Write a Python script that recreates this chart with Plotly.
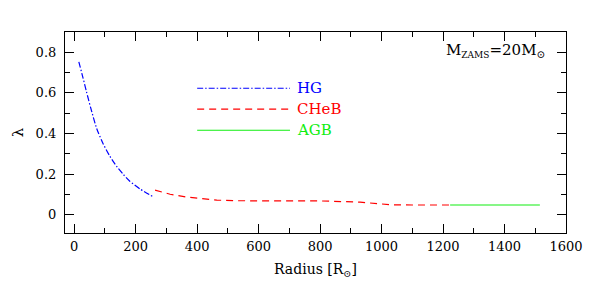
import plotly.graph_objects as go

# ---- data ----
hg_r = [15, 29, 40, 53, 73, 94, 116, 138, 160, 181, 214, 257]
hg_lam = [0.753, 0.672, 0.605, 0.53, 0.425, 0.35, 0.288, 0.238, 0.198, 0.165, 0.127, 0.088]

cheb_r = [263, 312, 366, 420, 464, 520, 572, 700, 800, 880, 930, 985, 1030, 1100, 1223]
cheb_lam = [0.121, 0.101, 0.087, 0.077, 0.072, 0.069, 0.068, 0.068, 0.068, 0.066, 0.062, 0.055, 0.049, 0.048, 0.048]

agb_r = [1223, 1515]
agb_lam = [0.048, 0.048]

legend_labels = ["HG", "CHeB", "AGB"]

BLUE = "#0000ff"
RED = "#ff0000"
GREEN = "#11ee11"
FONT = "DejaVu Serif"

fig = go.Figure()
fig.add_trace(go.Scatter(x=hg_r, y=hg_lam, mode="lines", line=dict(color=BLUE, width=1.2, dash="6px,2px,1.5px,2px", shape="spline", smoothing=0.6), showlegend=False))
fig.add_trace(go.Scatter(x=cheb_r, y=cheb_lam, mode="lines", line=dict(color=RED, width=1.2, dash="7px,5px"), showlegend=False))
fig.add_trace(go.Scatter(x=agb_r, y=agb_lam, mode="lines", line=dict(color=GREEN, width=1.2), showlegend=False))

# manual legend
leg_styles = [dict(color=BLUE, dash="6px,2px,1.5px,2px"), dict(color=RED, dash="7px,5px"), dict(color=GREEN, dash="solid")]
leg_y = [0.623, 0.52, 0.416]
for lab, st, yy in zip(legend_labels, leg_styles, leg_y):
    fig.add_shape(type="line", xref="x", yref="y", x0=400, x1=702, y0=yy, y1=yy,
                  line=dict(color=st["color"], width=1.2, dash=st["dash"]))
    fig.add_annotation(x=718, y=yy, xref="x", yref="y", text=lab, showarrow=False,
                       xanchor="left", yanchor="middle", font=dict(family=FONT, size=15, color=st["color"]))

fig.add_annotation(x=0.962, y=0.91, xref="paper", yref="paper",
                   text="M<sub><span style='font-size:9px'>ZAMS</span></sub>=20M<sub>⊙</sub>",
                   showarrow=False, xanchor="right", yanchor="middle",
                   font=dict(family=FONT, size=15, color="black"))

axis_common = dict(showgrid=False, zeroline=False, showline=True, linecolor="black", linewidth=1.2,
                   ticks="inside", ticklen=9, tickcolor="black", tickwidth=1, automargin=False,
                   tickfont=dict(family=FONT, size=13, color="black"))

# the page body has an 8px default margin, so the figure is sized to fit the window
fig.update_layout(
    width=590, height=282,
    margin=dict(l=57, r=32, t=24, b=57),
    paper_bgcolor="white", plot_bgcolor="white",
    xaxis=dict(range=[-30, 1600], dtick=200, tick0=0,
               minor=dict(dtick=100, ticklen=5, ticks="inside", tickcolor="black"),
               title=dict(text="Radius [R<sub>⊙</sub>]", font=dict(family=FONT, size=14, color="black"), standoff=11),
               ticklabelstandoff=1, **axis_common),
    yaxis=dict(range=[-0.09, 0.9], dtick=0.2, tick0=0,
               minor=dict(dtick=0.1, ticklen=5, ticks="inside", tickcolor="black"),
               title=dict(text="λ", font=dict(family=FONT, size=15, color="black"), standoff=8),
               ticklabelstandoff=5, **axis_common),
    xaxis2=dict(range=[-30, 1600], dtick=200, tick0=0, overlaying="x", side="top", showticklabels=False,
                minor=dict(dtick=100, ticklen=5, ticks="inside", tickcolor="black"), **axis_common),
    yaxis2=dict(range=[-0.09, 0.9], dtick=0.2, tick0=0, overlaying="y", side="right", showticklabels=False,
                minor=dict(dtick=0.1, ticklen=5, ticks="inside", tickcolor="black"), **axis_common),
)
# dummy trace to activate the mirrored axes
fig.add_trace(go.Scatter(x=[None], y=[None], xaxis="x2", yaxis="y2", showlegend=False, hoverinfo="skip"))

fig.write_html("out.html")
